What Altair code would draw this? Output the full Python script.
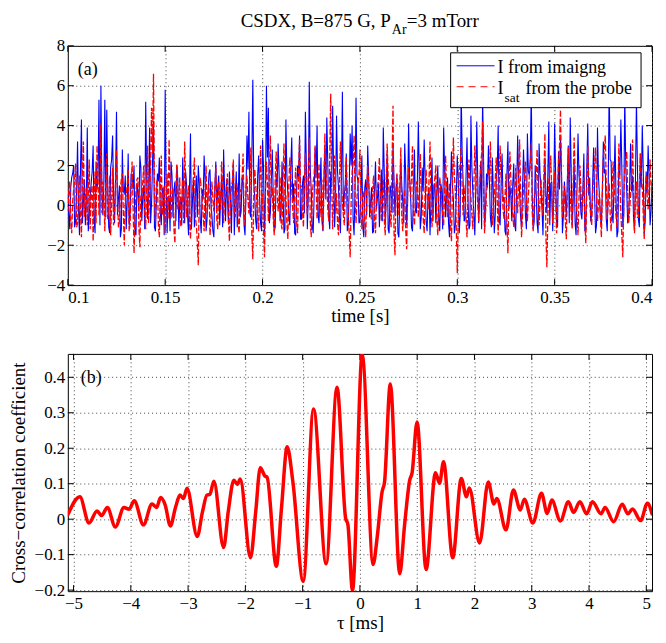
import altair as alt
import pandas as pd

# ---------------- data ----------------
t0 = 0.1
dt = 0.0005
# samples at whole milliseconds
blue_ms = [
    0.5,-1.2,1.4,2.0,-0.8,3.2,-1.5,4.3,0.2,-1.0,
    3.9,-0.6,1.1,3.0,-1.4,0.8,5.3,6.0,-0.5,5.3,
    4.8,-1.1,1.9,3.5,-0.9,4.7,0.3,-1.6,2.8,0.6,
    -1.2,2.6,-0.4,1.3,2.0,-1.5,0.7,2.5,-0.8,1.0,
    5.2,-0.7,3.9,0.1,4.2,-1.3,1.6,2.4,-1.0,0.9,
    5.8,-1.4,0.5,2.2,-0.6,1.2,2.0,-1.2,0.4,2.4,
    -0.9,1.0,-1.5,3.6,0.2,-1.1,1.5,2.0,-0.7,0.8,
    2.5,-1.3,0.6,1.8,-0.5,-1.6,2.2,0.9,-1.0,1.4,
    2.8,-0.8,0.3,1.7,-1.4,2.1,0.5,-1.1,2.6,-0.3,
    1.2,-1.5,3.5,4.7,-0.6,6.3,0.4,-1.2,2.5,-0.9,
    3.3,-1.6,6.0,4.9,-0.4,2.8,-1.3,1.6,3.1,-0.8,
    2.2,-1.4,4.3,0.6,-1.0,3.4,1.1,-1.5,2.0,3.5,
    -0.7,1.5,4.7,-1.2,6.2,0.8,-1.4,2.9,4.0,-0.9,
    2.4,-1.3,3.0,4.4,-0.5,1.7,5.0,-1.1,4.5,0.9,
    -1.4,5.7,0.5,2.6,-1.0,3.6,4.0,-1.5,5.4,1.2,
    -0.8,2.5,-1.6,1.3,3.0,-0.6,0.9,-1.3,2.2,0.4,
    -1.1,1.8,3.9,-0.9,2.6,-1.4,0.7,3.0,-0.5,1.5,
    -1.6,2.3,0.2,3.1,-1.0,4.1,0.6,-1.3,2.8,-0.4,
    4.2,-1.2,1.9,3.3,-0.8,0.5,-1.5,2.4,1.0,-0.9,
    2.0,-1.3,0.8,3.9,-0.6,1.4,-1.6,2.7,0.3,-1.0,
    2.5,-1.4,5.8,1.2,-0.7,3.4,-1.2,4.5,0.6,-1.5,
    4.2,-0.9,2.2,5.5,-1.1,1.6,3.0,-0.6,2.4,-1.4,
    1.3,4.0,-1.0,2.6,0.4,-1.5,3.2,1.0,-0.8,2.1,
    -1.3,3.5,0.7,-1.1,2.8,-0.5,3.6,1.5,5.8,-1.2,
    2.0,-0.9,3.1,0.8,-1.5,2.4,-0.4,4.2,1.1,-1.3,
    4.1,-0.8,2.7,3.4,-1.4,1.2,-0.6,3.0,4.4,-1.0,
    2.3,-1.5,3.6,0.9,-0.7,2.6,-1.2,4.1,1.4,-0.5,
    2.9,-1.4,3.9,0.5,-1.0,3.2,1.8,-1.3,6.0,2.2,
    -0.9,3.5,-1.6,2.4,4.3,-1.1,5.6,0.8,-0.6,3.1,
    1.5,-1.3,5.3,-0.7,2.6,4.0,-1.4,1.7,3.0,-1.0,
    1.2,
]
# samples half a millisecond later
blue_half = [
    -0.4,0.9,1.6,-1.1,0.6,-0.2,1.8,-0.9,1.3,0.1,
    -1.3,0.5,1.7,-0.7,2.2,1.4,-1.0,0.8,1.1,-0.6,
    0.9,-1.4,2.3,0.4,1.2,-0.5,1.0,-1.2,0.7,1.5,
    0.2,-1.0,1.6,0.8,-1.4,1.1,-0.3,1.9,0.5,-1.2,
    1.4,0.6,-0.9,2.1,-1.1,0.3,1.2,-0.4,0.8,-1.5,
    1.0,0.4,-1.3,1.5,0.7,-0.8,1.3,0.2,-1.0,0.6,
    1.7,-0.5,0.9,-1.2,1.4,0.5,-0.6,1.1,-1.4,0.3,
    1.2,-0.7,1.6,0.1,-1.3,0.9,-0.2,1.5,0.4,-1.1,
    0.8,1.3,-0.9,0.5,1.0,-1.5,1.7,0.2,-0.6,1.4,
    -1.0,0.7,1.8,-0.4,2.3,1.1,-0.8,1.5,0.3,-1.3,
    1.9,0.5,2.4,-0.9,1.2,0.4,-1.1,0.9,1.6,-0.3,
    0.7,-1.2,1.5,-0.6,1.9,0.2,-1.4,0.8,1.3,-0.7,
    1.1,-0.4,2.0,0.6,1.8,-1.0,0.5,1.4,-0.5,1.0,
    -0.8,1.2,0.3,2.1,-1.2,0.9,1.6,0.4,1.7,-0.6,
    1.3,-0.3,1.1,-1.3,0.8,2.0,-0.7,0.9,1.5,-0.9,
    0.6,-1.1,0.9,-0.5,1.4,0.2,-1.4,0.7,-0.2,1.1,
    0.4,-0.8,1.7,0.3,-1.2,1.0,-0.4,1.3,0.8,-1.4,
    0.5,1.0,-0.9,1.6,0.2,1.3,-1.1,0.6,-0.3,1.2,
    1.5,-0.6,0.7,1.4,-1.3,0.9,0.1,-0.8,1.1,0.6,
    -0.7,1.1,-1.2,1.8,0.4,-0.9,0.8,1.0,-1.4,0.5,
    1.3,-0.5,2.6,-0.8,1.5,0.3,-1.0,1.9,-0.4,0.8,
    1.4,0.6,-1.2,2.2,-0.3,0.9,1.2,-1.1,0.7,-0.5,
    1.8,-0.7,1.0,0.2,-1.3,1.6,-0.2,0.5,1.1,-1.0,
    0.9,1.4,-0.6,0.8,1.3,-1.2,1.7,2.4,0.4,-0.8,
    0.7,-1.4,1.6,-0.2,0.9,0.6,1.5,-1.0,1.2,0.3,
    1.6,-1.1,0.8,1.8,-0.5,0.4,1.2,-0.9,1.7,0.2,
    -0.9,1.0,1.5,-0.4,0.9,-1.3,1.8,0.5,-0.8,1.1,
    0.6,-1.0,1.4,-0.6,0.8,1.6,-0.7,0.9,2.3,-0.4,
    1.1,0.4,-1.3,1.5,1.9,-0.5,2.0,-0.9,1.0,0.7,
    -0.6,1.3,2.0,-1.1,0.9,1.7,-0.8,0.6,1.4,-0.3,
]
red_ms = [
    -0.3,1.2,-1.4,0.8,2.1,-0.9,1.5,-1.6,3.2,0.4,
    -1.0,2.3,0.6,-1.8,1.7,3.0,-0.5,4.1,1.2,-1.3,
    2.6,0.1,-1.5,1.9,-0.4,2.8,-1.1,0.9,1.6,-2.0,
    0.5,1.8,-0.9,2.2,-2.4,0.7,1.4,-2.1,0.3,2.0,
    -1.2,3.0,0.6,4.9,6.6,-0.8,1.3,-1.6,2.5,0.2,
    -1.4,1.6,3.3,-0.7,0.9,-1.9,2.1,0.4,-1.1,1.3,
    3.2,-0.6,1.0,-1.7,0.8,2.4,-1.0,-3.0,1.4,0.3,
    -1.3,2.0,0.5,-1.5,1.2,-0.3,1.9,-1.2,0.6,2.2,
    -0.9,0.4,1.6,-1.8,0.9,2.3,-0.6,1.1,-1.4,0.7,
    2.6,-1.0,1.5,-0.4,2.9,-2.7,1.8,0.2,-1.3,3.0,
    0.6,-2.6,2.2,-0.8,3.5,0.9,-1.5,2.7,-0.3,1.4,
    -1.2,3.1,0.5,-1.7,2.4,0.8,-0.9,1.9,-1.4,3.3,
    1.0,-1.1,2.6,-0.5,3.4,-1.6,1.2,3.0,-0.7,2.1,
    0.4,-1.3,3.6,1.1,-0.8,5.6,-1.2,2.5,0.6,-1.5,
    3.2,0.2,-1.0,2.4,-0.4,-2.6,1.7,3.5,-0.9,1.1,
    2.8,-1.2,0.7,-1.6,2.0,0.3,-0.7,1.5,-1.4,0.9,
    2.4,-0.8,1.3,-1.5,3.1,0.6,-1.1,5.0,-2.5,1.6,
    -0.5,2.9,-1.3,0.8,-2.2,1.9,0.4,3.0,-1.0,1.2,
    -0.6,2.6,0.5,-1.4,1.8,-0.2,3.2,-1.1,0.9,2.0,
    -1.5,1.4,0.2,-1.0,2.5,-0.6,1.1,-1.8,3.4,0.7,
    -3.4,1.7,2.9,-0.5,1.0,-1.6,2.3,0.4,-1.2,3.0,
    1.2,-0.8,2.0,4.2,-1.4,0.6,1.8,3.2,-1.0,0.5,
    2.4,-1.5,3.0,0.8,-0.7,1.6,-2.4,2.7,0.3,-1.1,
    1.9,-0.4,3.3,-1.6,0.9,2.2,-0.8,1.5,3.1,-1.3,
    0.6,2.8,-1.0,1.3,-0.5,3.6,-3.1,1.2,2.5,-0.9,
    1.7,-1.4,2.3,4.8,-0.6,1.0,-1.7,2.9,0.5,-1.2,
    3.4,0.7,-1.5,2.0,-0.3,1.4,-1.9,3.0,0.2,-1.0,
    1.6,2.9,-0.8,0.6,-1.6,2.4,3.5,-0.7,1.1,-1.3,
    2.2,0.4,-1.1,3.1,-0.4,-2.6,1.8,2.7,-0.9,0.5,
    3.3,-1.4,1.2,-0.6,2.6,0.9,-1.7,1.5,-0.2,2.3,
    0.3,
]
red_half = [
    0.6,-0.8,0.2,1.3,-1.1,0.7,-0.3,1.6,-0.6,0.9,
    0.5,-1.2,1.0,0.3,-0.9,1.4,0.8,-0.4,0.6,1.1,
    -0.7,1.5,0.2,-1.0,1.2,0.5,-0.8,1.3,-0.3,0.4,
    1.0,-1.3,0.7,0.1,-0.6,1.3,-1.1,0.5,1.2,-0.4,
    0.8,-0.9,1.9,2.6,0.4,1.1,-1.0,0.6,-0.5,1.0,
    0.3,-0.7,1.2,0.6,-1.2,0.9,-0.2,1.4,0.1,-0.9,
    1.1,0.4,-0.8,0.5,1.3,-0.6,-1.8,0.7,0.9,-0.5,
    0.6,-0.4,1.1,-0.9,0.3,0.8,-0.7,1.2,-0.2,0.9,
    0.3,1.0,-0.8,0.4,1.2,-0.3,0.6,-1.0,0.8,1.4,
    -0.5,0.9,0.3,1.2,-1.4,0.5,1.0,-0.6,1.3,-0.2,
    -1.3,0.8,1.1,1.6,0.4,-0.7,1.3,0.6,0.5,-0.9,
    1.4,0.2,-0.9,1.0,1.3,-0.2,0.7,-0.8,1.5,0.9,
    -0.3,1.2,0.7,1.7,-0.8,0.4,1.5,0.9,0.3,-0.6,
    1.3,0.8,1.7,-0.2,2.4,1.0,0.6,-0.4,-0.9,1.2,
    1.0,-0.5,0.8,0.7,-1.4,0.2,2.1,0.6,0.4,1.5,
    -0.3,0.5,-0.8,0.9,1.1,-0.5,0.7,-0.6,0.4,1.3,
    0.6,0.3,-0.7,1.2,1.4,-0.4,2.2,-1.3,0.5,0.9,
    1.0,-0.6,0.2,-1.2,0.6,1.1,1.5,-0.4,0.3,0.8,
    0.9,0.6,-0.7,0.8,0.5,1.3,0.2,-0.3,1.4,-0.8,
    0.4,0.9,-0.5,0.8,0.7,0.3,-0.9,0.9,1.5,-1.2,
    -0.6,2.0,0.9,0.3,-0.7,0.8,1.1,-0.5,0.9,1.6,
    0.1,0.9,2.6,0.8,-0.4,1.2,1.5,0.7,-0.3,1.3,
    0.3,0.9,1.4,-0.2,0.5,-0.9,0.6,1.3,-0.5,0.4,
    0.6,1.2,0.8,-0.5,1.4,0.3,0.4,2.0,-0.4,0.5,
    1.5,0.7,0.2,0.4,1.6,-1.5,-0.6,1.7,0.6,0.3,
    0.2,0.6,3.0,1.4,0.1,-0.8,0.7,1.3,-0.4,1.0,
    1.6,-0.6,0.4,0.7,0.5,-0.8,0.8,1.2,-0.5,0.4,
    2.0,0.8,0.1,-0.6,0.7,2.8,1.0,0.2,-0.4,0.6,
    1.0,-0.5,0.8,1.2,-1.5,0.3,2.1,0.6,-0.2,1.4,
    0.7,0.4,-0.6,0.8,1.5,-0.5,0.6,0.5,0.9,1.0,
]
tau_ms = [
    -5.1,-4.89,-4.73,-4.59,-4.51,-4.41,-4.27,-4.12,-4.03,-3.94,
    -3.78,-3.63,-3.55,-3.48,-3.40,-3.31,-3.22,-3.14,-3.08,-3.02,
    -2.84,-2.75,-2.67,-2.62,-2.55,-2.38,-2.30,-2.20,-2.14,-2.09,
    -1.91,-1.82,-1.74,-1.66,-1.62,-1.46,-1.37,-1.27,-1.17,-0.99,
    -0.81,-0.59,-0.40,-0.25,-0.21,-0.13,0.04,0.23,0.30,0.387,
    0.43,0.53,0.695,0.78,0.87,0.91,0.998,1.155,1.32,1.39,
    1.46,1.62,1.77,1.86,1.91,2.09,2.24,2.34,2.39,2.55,
    2.68,2.80,2.87,3.02,3.17,3.27,3.35,3.50,3.64,3.73,
    3.84,3.96,4.06,4.21,4.28,4.43,4.58,4.68,4.76,4.90,
    5.02,5.1,
]
xcorr = [
    0.012,0.063,-0.011,0.023,0.010,0.033,-0.022,0.033,0.028,0.052,
    -0.016,0.043,0.033,0.061,0.040,-0.019,0.033,0.068,0.058,0.087,
    -0.049,0.020,0.068,0.070,0.107,-0.080,0.020,0.110,0.098,0.113,
    -0.109,0.020,0.145,0.122,0.118,-0.133,0.030,0.204,0.105,-0.175,
    0.311,-0.126,0.372,0.003,-0.015,-0.201,0.465,-0.128,-0.053,0.077,
    0.105,0.381,-0.154,-0.016,0.110,0.130,0.274,-0.142,0.131,0.101,
    0.162,-0.109,0.115,0.063,0.088,-0.067,0.105,0.043,0.058,-0.030,
    0.082,0.026,0.056,-0.011,0.073,0.016,0.054,-0.005,0.049,0.019,
    0.049,0.015,0.049,0.015,0.033,-0.007,0.042,0.015,0.029,-0.004,
    0.045,0.015,
]

top_xticks = [0.1, 0.15, 0.2, 0.25, 0.3, 0.35, 0.4]
top_yticks = [-4, -2, 0, 2, 4, 6, 8]
bot_xticks = [-5, -4, -3, -2, -1, 0, 1, 2, 3, 4, 5]
bot_yticks = [-0.2, -0.1, 0, 0.1, 0.2, 0.3, 0.4]

title_main = "CSDX, B=875 G, P"
title_sub = "Ar"
title_rest = "=3 mTorr"
legend1 = "I from imaigng"
legend2_main = "I"
legend2_sub = "sat"
legend2_rest = "from the probe"
xlabel_top = "time [s]"
xlabel_bot = "τ [ms]"
ylabel_bot = "Cross−correlation coefficient"

# ---------------- layout constants ----------------
W = 586
H_TOP = 240
H_BOT = 238
FONT = "Liberation Serif"
TICK = 6


def interleave(a, b):
    out = []
    for i, v in enumerate(a):
        out.append(v)
        if i < len(b):
            out.append(b[i])
    return out


blue_vals = interleave(blue_ms, blue_half)
red_vals = interleave(red_ms, red_half)
times = [round(t0 + dt * i, 5) for i in range(len(blue_vals))]
df_blue = pd.DataFrame({"t": times, "v": blue_vals})
df_red = pd.DataFrame({"t": times, "v": red_vals})
df_corr = pd.DataFrame({"tau": tau_ms, "r": xcorr})
one = pd.DataFrame({"a": [0]})


def axis(values, title, **kw):
    return alt.Axis(values=values, format="~g", title=title, labelFont=FONT, titleFont=FONT,
                    labelFontSize=17, titleFontSize=19, titleFontWeight="normal",
                    labelColor="black", titleColor="black", domain=False, ticks=False, tickSize=0,
                    grid=True, gridColor="#444444", gridDash=[1, 3], gridWidth=1, gridOpacity=1, **kw)


# ---------------- top panel ----------------
tx = alt.X("t:Q", scale=alt.Scale(domain=[0.1, 0.4], nice=False, zero=False),
           axis=axis(top_xticks, xlabel_top, labelPadding=4, titlePadding=2))
ty = alt.Y("v:Q", scale=alt.Scale(domain=[-4, 8], nice=False, zero=False),
           axis=axis(top_yticks, None, labelPadding=3))

blue = alt.Chart(df_blue).mark_line(color="#0000ff", strokeWidth=1.1, clip=True).encode(x=tx, y=ty)
red = alt.Chart(df_red).mark_line(color="#ff0000", strokeWidth=1.3, strokeDash=[6, 2], clip=True).encode(x=tx, y=ty)

df_txt = pd.DataFrame({"t": top_xticks})
df_tyt = pd.DataFrame({"v": top_yticks})
t_xt_bot = alt.Chart(df_txt).mark_rule(color="black", strokeWidth=1).encode(x=tx, y=alt.value(H_TOP - TICK), y2=alt.value(H_TOP))
t_xt_top = alt.Chart(df_txt).mark_rule(color="black", strokeWidth=1).encode(x=tx, y=alt.value(0), y2=alt.value(TICK))
t_yt_l = alt.Chart(df_tyt).mark_rule(color="black", strokeWidth=1).encode(y=ty, x=alt.value(0), x2=alt.value(TICK))
t_yt_r = alt.Chart(df_tyt).mark_rule(color="black", strokeWidth=1).encode(y=ty, x=alt.value(W - TICK), x2=alt.value(W))


def txt(s, x, y, size=18, align="left"):
    return alt.Chart(one).mark_text(font=FONT, fontSize=size, align=align, baseline="alphabetic",
                                    color="black").encode(x=alt.value(x), y=alt.value(y), text=alt.value(s))


leg_box = alt.Chart(one).mark_rect(fill="white", stroke="black", strokeWidth=1).encode(
    x=alt.value(384), x2=alt.value(575), y=alt.value(7), y2=alt.value(62))
leg_l1 = alt.Chart(one).mark_rule(color="#0000ff", strokeWidth=1).encode(
    x=alt.value(390), x2=alt.value(428), y=alt.value(20))
leg_l2 = alt.Chart(one).mark_rule(color="#ff0000", strokeWidth=1, strokeDash=[7, 5]).encode(
    x=alt.value(390), x2=alt.value(428), y=alt.value(41))

top = alt.layer(
    blue, red, t_xt_bot, t_xt_top, t_yt_l, t_yt_r,
    leg_box, leg_l1, leg_l2,
    txt(legend1, 431, 27),
    txt(legend2_main, 431, 48),
    txt(legend2_sub, 438, 56, size=13.5),
    txt(legend2_rest, 459, 48),
    txt("(a)", 10, 29),
    txt(title_main, 324, -19, size=19, align="right"),
    txt(title_sub, 325, -12, size=14),
    txt(title_rest, 340, -19, size=19),
).properties(width=W, height=H_TOP)

# ---------------- bottom panel ----------------
bx = alt.X("tau:Q", scale=alt.Scale(domain=[-5.1, 5.1], nice=False, zero=False),
           axis=axis(bot_xticks, xlabel_bot, labelPadding=4, titlePadding=2))
by = alt.Y("r:Q", scale=alt.Scale(domain=[-0.203, 0.466], nice=False, zero=False),
           axis=axis(bot_yticks, ylabel_bot, labelPadding=3, titlePadding=6))

corr = alt.Chart(df_corr).mark_line(color="#ff0000", strokeWidth=3.5, interpolate="monotone",
                                    strokeJoin="round", strokeCap="round", clip=True).encode(x=bx, y=by)
df_bxt = pd.DataFrame({"tau": bot_xticks})
df_byt = pd.DataFrame({"r": bot_yticks})
b_xt_bot = alt.Chart(df_bxt).mark_rule(color="black", strokeWidth=1).encode(x=bx, y=alt.value(H_BOT - TICK), y2=alt.value(H_BOT))
b_xt_top = alt.Chart(df_bxt).mark_rule(color="black", strokeWidth=1).encode(x=bx, y=alt.value(0), y2=alt.value(TICK))
b_yt_l = alt.Chart(df_byt).mark_rule(color="black", strokeWidth=1).encode(y=by, x=alt.value(0), x2=alt.value(TICK))
b_yt_r = alt.Chart(df_byt).mark_rule(color="black", strokeWidth=1).encode(y=by, x=alt.value(W - TICK), x2=alt.value(W))

bottom = alt.layer(
    b_xt_bot, b_xt_top, b_yt_l, b_yt_r, corr,
    txt("(b)", 13, 29),
).properties(width=W, height=H_BOT)

chart = alt.vconcat(top, bottom, spacing=26).properties(
    padding={"left": 0, "top": 2, "right": 5, "bottom": 0}
).configure(font=FONT).configure_axis(labelFont=FONT, titleFont=FONT
).configure_view(stroke="black", strokeWidth=1)

chart.save("out.html", embed_options={"renderer": "svg", "actions": False})
